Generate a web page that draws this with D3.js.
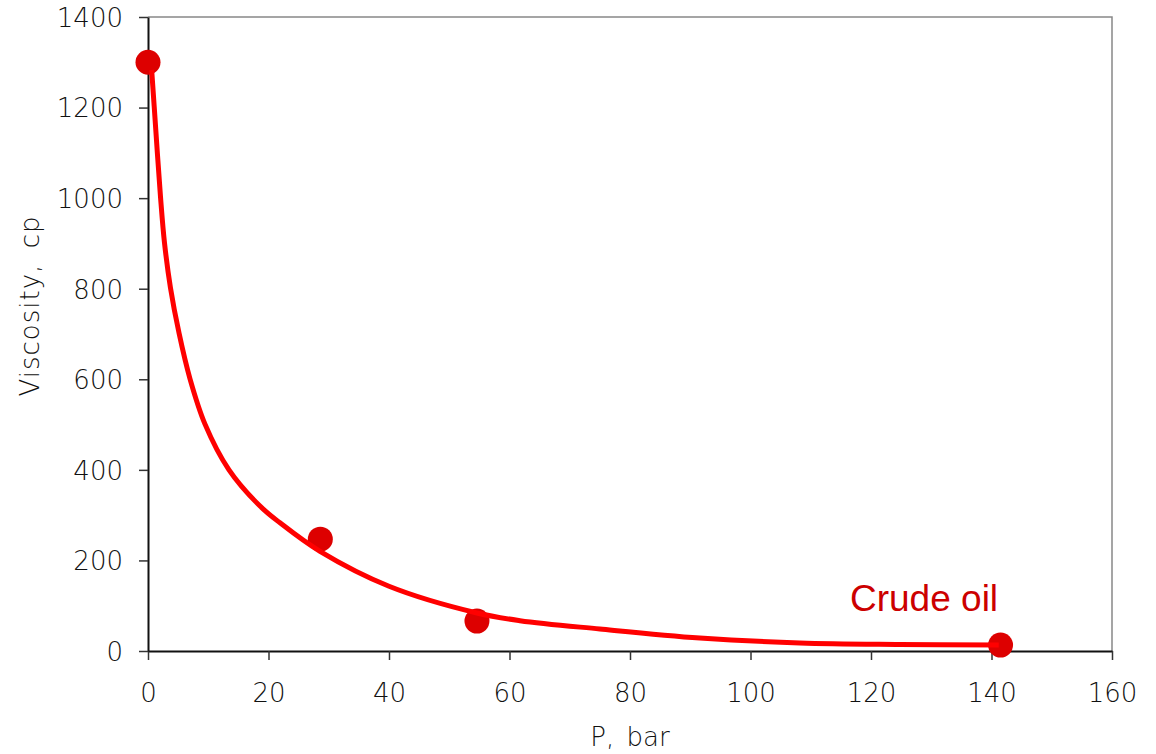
<!DOCTYPE html>
<html>
<head>
<meta charset="utf-8">
<script src="https://cdn.jsdelivr.net/npm/d3@7"></script>
<style>
  html, body { margin: 0; padding: 0; background: #fff; }
  svg { display: block; }
  .tick text { font-family: "DejaVu Sans", sans-serif; font-weight: 200; font-size: 26px; fill: #111; }
  .axis-title { font-family: "DejaVu Sans", sans-serif; font-weight: 200; font-size: 26px; fill: #111; }
</style>
</head>
<body>
<svg id="chart" width="1156" height="754"></svg>
<script>
// Measured viscosity of crude oil vs. pressure
const pressure = [0, 28.6, 54.6, 141.5];
const viscosity = [1300, 247, 66, 13];

// Trend curve through the measurements (pressure, viscosity pairs)
const trendP = [0.61, 1.03, 2.08, 2.74, 3.73, 5.15, 6.97, 9.46, 13.44, 18.59, 21.91, 28.55, 40.0, 54.6, 61.74, 75.0, 91.6, 108.2, 124.8, 141.2];
const trendV = [1283, 1202, 1002, 901, 802, 702, 601, 501, 400, 320, 283, 220, 143, 84, 67, 48.6, 28.7, 17.7, 14.4, 13.2];

const xTicks = [0, 20, 40, 60, 80, 100, 120, 140, 160];
const yTicks = [0, 200, 400, 600, 800, 1000, 1200, 1400];

const svg = d3.select("#chart");
const plotL = 148, plotR = 1112, plotT = 17, plotB = 651;

const x = d3.scaleLinear().domain([0, 160]).range([plotL, plotR]);
const y = d3.scaleLinear().domain([0, 1400]).range([plotB, plotT]);

// plot frame (top and right edges)
svg.append("path")
  .attr("d", `M${plotL},${plotT}H${plotR}V${plotB}`)
  .attr("fill", "none").attr("stroke", "#888").attr("stroke-width", 1.5);

// axes
const fmt = d3.format("d");
const xAxis = svg.append("g")
  .attr("transform", `translate(0,${plotB})`)
  .call(d3.axisBottom(x).tickValues(xTicks).tickFormat(fmt).tickSize(9).tickPadding(23).tickSizeOuter(0));
const yAxis = svg.append("g")
  .attr("transform", `translate(${plotL},0)`)
  .call(d3.axisLeft(y).tickValues(yTicks).tickFormat(fmt).tickSize(9).tickPadding(16).tickSizeOuter(0));

[xAxis, yAxis].forEach(g => {
  g.select(".domain").attr("stroke", "#111").attr("stroke-width", 2);
  g.selectAll(".tick line").attr("stroke", "#333").attr("stroke-width", 1.5);
});
yAxis.selectAll(".tick text").attr("dy", "0.36em");
xAxis.selectAll(".tick text").attr("dy", "0.73em");

// axis titles
svg.append("text").attr("class", "axis-title")
  .attr("x", 630).attr("y", 746)
  .attr("text-anchor", "middle")
  .style("word-spacing", "4px")
  .text("P, bar");
svg.append("text").attr("class", "axis-title")
  .attr("transform", "translate(39,306) rotate(-90)")
  .attr("text-anchor", "middle")
  .style("letter-spacing", "1px").style("word-spacing", "6px")
  .text("Viscosity, cp");

// data markers
const pts = pressure.map((p, i) => ({ p, v: viscosity[i] }));
svg.append("g").selectAll("circle").data(pts).join("circle")
  .attr("cx", d => x(d.p)).attr("cy", d => y(d.v))
  .attr("r", 12.5).attr("fill", "#dd0000");

// trend curve
const trend = trendP.map((p, i) => ({ p, v: trendV[i] }));
svg.append("path")
  .datum(trend)
  .attr("fill", "none").attr("stroke", "#ff0000").attr("stroke-width", 5)
  .attr("stroke-linecap", "butt")
  .attr("d", d3.line().x(d => x(d.p)).y(d => y(d.v)).curve(d3.curveCatmullRom.alpha(0.5)));

// series label
svg.append("text")
  .attr("x", 850).attr("y", 611)
  .attr("font-family", "'Liberation Sans', Arial, sans-serif")
  .attr("font-size", 37).attr("fill", "#cc0000")
  .text("Crude oil");
</script>
</body>
</html>
